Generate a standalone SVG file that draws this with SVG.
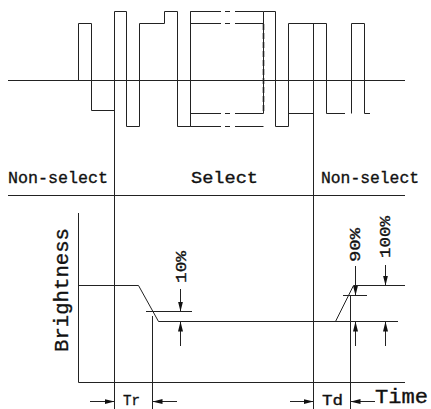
<svg xmlns="http://www.w3.org/2000/svg" width="431" height="409" viewBox="0 0 431 409">
<style>
.ln{fill:none;stroke:#222;stroke-width:1}
.dsh{fill:none;stroke:#222;stroke-width:1.6;stroke-dasharray:6 3}
.t{font-family:"Liberation Mono","DejaVu Sans Mono",monospace;fill:#111;stroke:#111;stroke-width:0.35}
.lbl{font-size:17px}
.big{font-size:20px}
.pc{font-size:15px}
</style>
<defs>
<marker id="ah" viewBox="0 0 10 6" refX="10" refY="3" markerWidth="10" markerHeight="6" markerUnits="userSpaceOnUse" orient="auto">
<path d="M0,0.5 L10,3 L0,5.5 Z" fill="#111"/>
</marker>
</defs>
<rect width="431" height="409" fill="#fff"/>
<g id="waveform">
<line class="ln" x1="8" y1="80.5" x2="405" y2="80.5"/>
<path class="ln" d="M78.5,80.5 V23.5 H91.5 V110.5 H114.5 V11.5 H126.5 V126.5 H139.5 V23.5 H164.5 V11.5 H177.5 V126.5 H190.5 V11.5"/>
<line class="ln" x1="190.5" y1="11.5" x2="190.5" y2="126.5"/>
<path class="ln" d="M190.5,11.5 H221 M225,11.5 H230 M235,11.5 H263.5"/>
<path class="ln" d="M190.5,23.5 H221 M225,23.5 H230 M235,23.5 H263.5"/>
<path class="ln" d="M190.5,113.5 H221 M225,113.5 H230 M235,113.5 H263.5"/>
<path class="ln" d="M190.5,126.5 H221 M225,126.5 H230 M235,126.5 H263.5"/>
<line class="ln" x1="263.5" y1="11.5" x2="263.5" y2="113.5"/>
<line class="dsh" x1="263.5" y1="24" x2="263.5" y2="113.5"/>
<path class="ln" d="M263.5,11.5 H275.5 V126.5 H288.5 V23.5 H326.5 V113.5 H345"/>
<path class="ln" d="M288.5,113.5 H313.5"/>
<path class="ln" d="M351.5,113.5 V23.5 H364.5 V113.5 H370"/>
</g>
<g id="dividers">
<line class="ln" x1="114.5" y1="58" x2="114.5" y2="409"/>
<line class="ln" x1="313.5" y1="23.5" x2="313.5" y2="409"/>
<line class="ln" x1="8" y1="195.5" x2="405" y2="195.5"/>
</g>
<g id="labels-top">
<text class="t lbl" x="8" y="183" textLength="100" lengthAdjust="spacingAndGlyphs">Non-select</text>
<text class="t lbl" x="191" y="183" textLength="67" lengthAdjust="spacingAndGlyphs">Select</text>
<text class="t lbl" x="321" y="183" textLength="98" lengthAdjust="spacingAndGlyphs">Non-select</text>
</g>
<g id="chart">
<path class="ln" d="M78.5,213 V382.5 H405"/>
<path class="ln" d="M78.5,285.5 H138.5 L158.5,321.5 H398"/>
<path class="ln" d="M335.5,321.5 L353.5,285.5 H405"/>
<line class="ln" x1="146" y1="311.5" x2="192" y2="311.5"/>
<line class="ln" x1="152.5" y1="316" x2="152.5" y2="409"/>
<line class="ln" x1="343" y1="295.5" x2="367" y2="295.5"/>
<line class="ln" x1="350.5" y1="295.5" x2="350.5" y2="409"/>
<text class="t big" transform="translate(68,290) rotate(-90)" text-anchor="middle" textLength="124" lengthAdjust="spacingAndGlyphs">Brightness</text>
</g>
<g id="dimensions">
<line class="ln" x1="180.5" y1="289" x2="180.5" y2="311.5" marker-end="url(#ah)"/>
<line class="ln" x1="180.5" y1="346" x2="180.5" y2="321.5" marker-end="url(#ah)"/>
<line class="ln" x1="355.5" y1="266" x2="355.5" y2="295.5" marker-end="url(#ah)"/>
<line class="ln" x1="355.5" y1="346" x2="355.5" y2="321.5" marker-end="url(#ah)"/>
<line class="ln" x1="385.5" y1="265" x2="385.5" y2="285.5" marker-end="url(#ah)"/>
<line class="ln" x1="385.5" y1="346" x2="385.5" y2="321.5" marker-end="url(#ah)"/>
<line class="ln" x1="90" y1="401.5" x2="114.5" y2="401.5" marker-end="url(#ah)"/>
<line class="ln" x1="177" y1="401.5" x2="152.5" y2="401.5" marker-end="url(#ah)"/>
<line class="ln" x1="290" y1="401.5" x2="313.5" y2="401.5" marker-end="url(#ah)"/>
<line class="ln" x1="375" y1="401.5" x2="350.5" y2="401.5" marker-end="url(#ah)"/>
<text class="t pc" transform="translate(186,267) rotate(-90)" text-anchor="middle" textLength="32" lengthAdjust="spacingAndGlyphs">10%</text>
<text class="t pc" transform="translate(360,245) rotate(-90)" text-anchor="middle" textLength="34" lengthAdjust="spacingAndGlyphs">90%</text>
<text class="t pc" transform="translate(390,237) rotate(-90)" text-anchor="middle" textLength="42" lengthAdjust="spacingAndGlyphs">100%</text>
<text class="t pc" x="123" y="405" textLength="17" lengthAdjust="spacingAndGlyphs">Tr</text>
<text class="t pc" x="322" y="405" textLength="21" lengthAdjust="spacingAndGlyphs">Td</text>
<text class="t big" x="375" y="403" textLength="53" lengthAdjust="spacingAndGlyphs">Time</text>
</g>
</svg>
